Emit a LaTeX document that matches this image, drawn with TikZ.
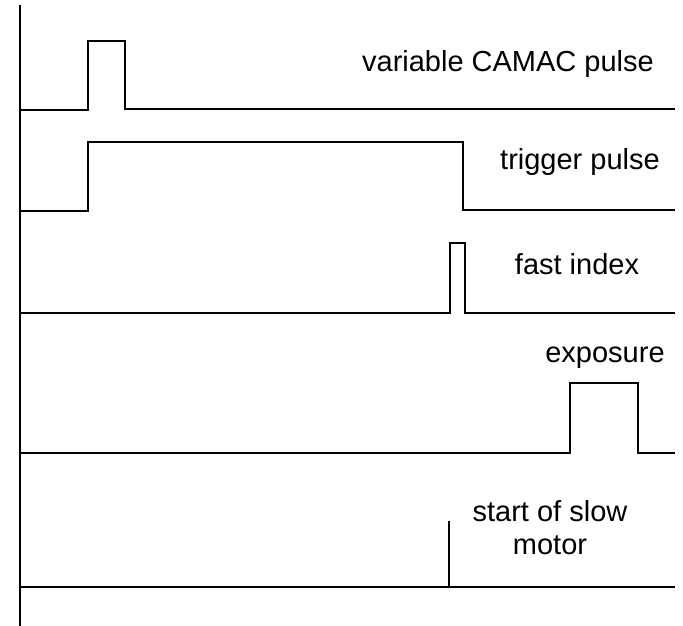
\documentclass[tikz,border=0pt]{standalone}
\usepackage{fontspec}
\setmainfont{Liberation Sans}
\begin{document}
\begin{tikzpicture}[x=1pt,y=-1pt,
  sig/.style={line width=1.6pt,line join=miter},
  axis/.style={line width=2.4pt},
  lbl/.style={font=\fontsize{29}{33}\selectfont,inner sep=0pt,align=center}]
\useasboundingbox (0,0) rectangle (683,626);
\coordinate (a0) at (20,5);
\coordinate (a1) at (20,626);
\draw[axis] (a0) -- (a1);
% CAMAC pulse
\draw[sig] (20,110) -- (88,110) -- (88,41) -- (125,41) -- (125,109) -- (675,109);
% trigger pulse
\draw[sig] (20,211) -- (88,211) -- (88,142) -- (463,142) -- (463,210) -- (675,210);
% fast index
\draw[sig] (20,313) -- (450,313) -- (450,243) -- (465,243) -- (465,313) -- (675,313);
% exposure
\draw[sig] (20,453) -- (570,453) -- (570,383) -- (638,383) -- (638,453) -- (675,453);
% slow motor
\draw[sig] (20,587) -- (675,587);
\coordinate (m0) at (449,587);
\coordinate (m1) at (449,521);
\draw[sig] (m0) -- (m1);
\node[lbl] (l1) at (508,64) {variable CAMAC pulse};
\node[lbl] (l2) at (580,162) {trigger pulse};
\node[lbl] (l3) at (577,264) {fast index};
\node[lbl] (l4) at (605,358) {exposure};
\node[lbl] (l5) at (550,528) {start of slow\\motor};
\end{tikzpicture}
\end{document}
